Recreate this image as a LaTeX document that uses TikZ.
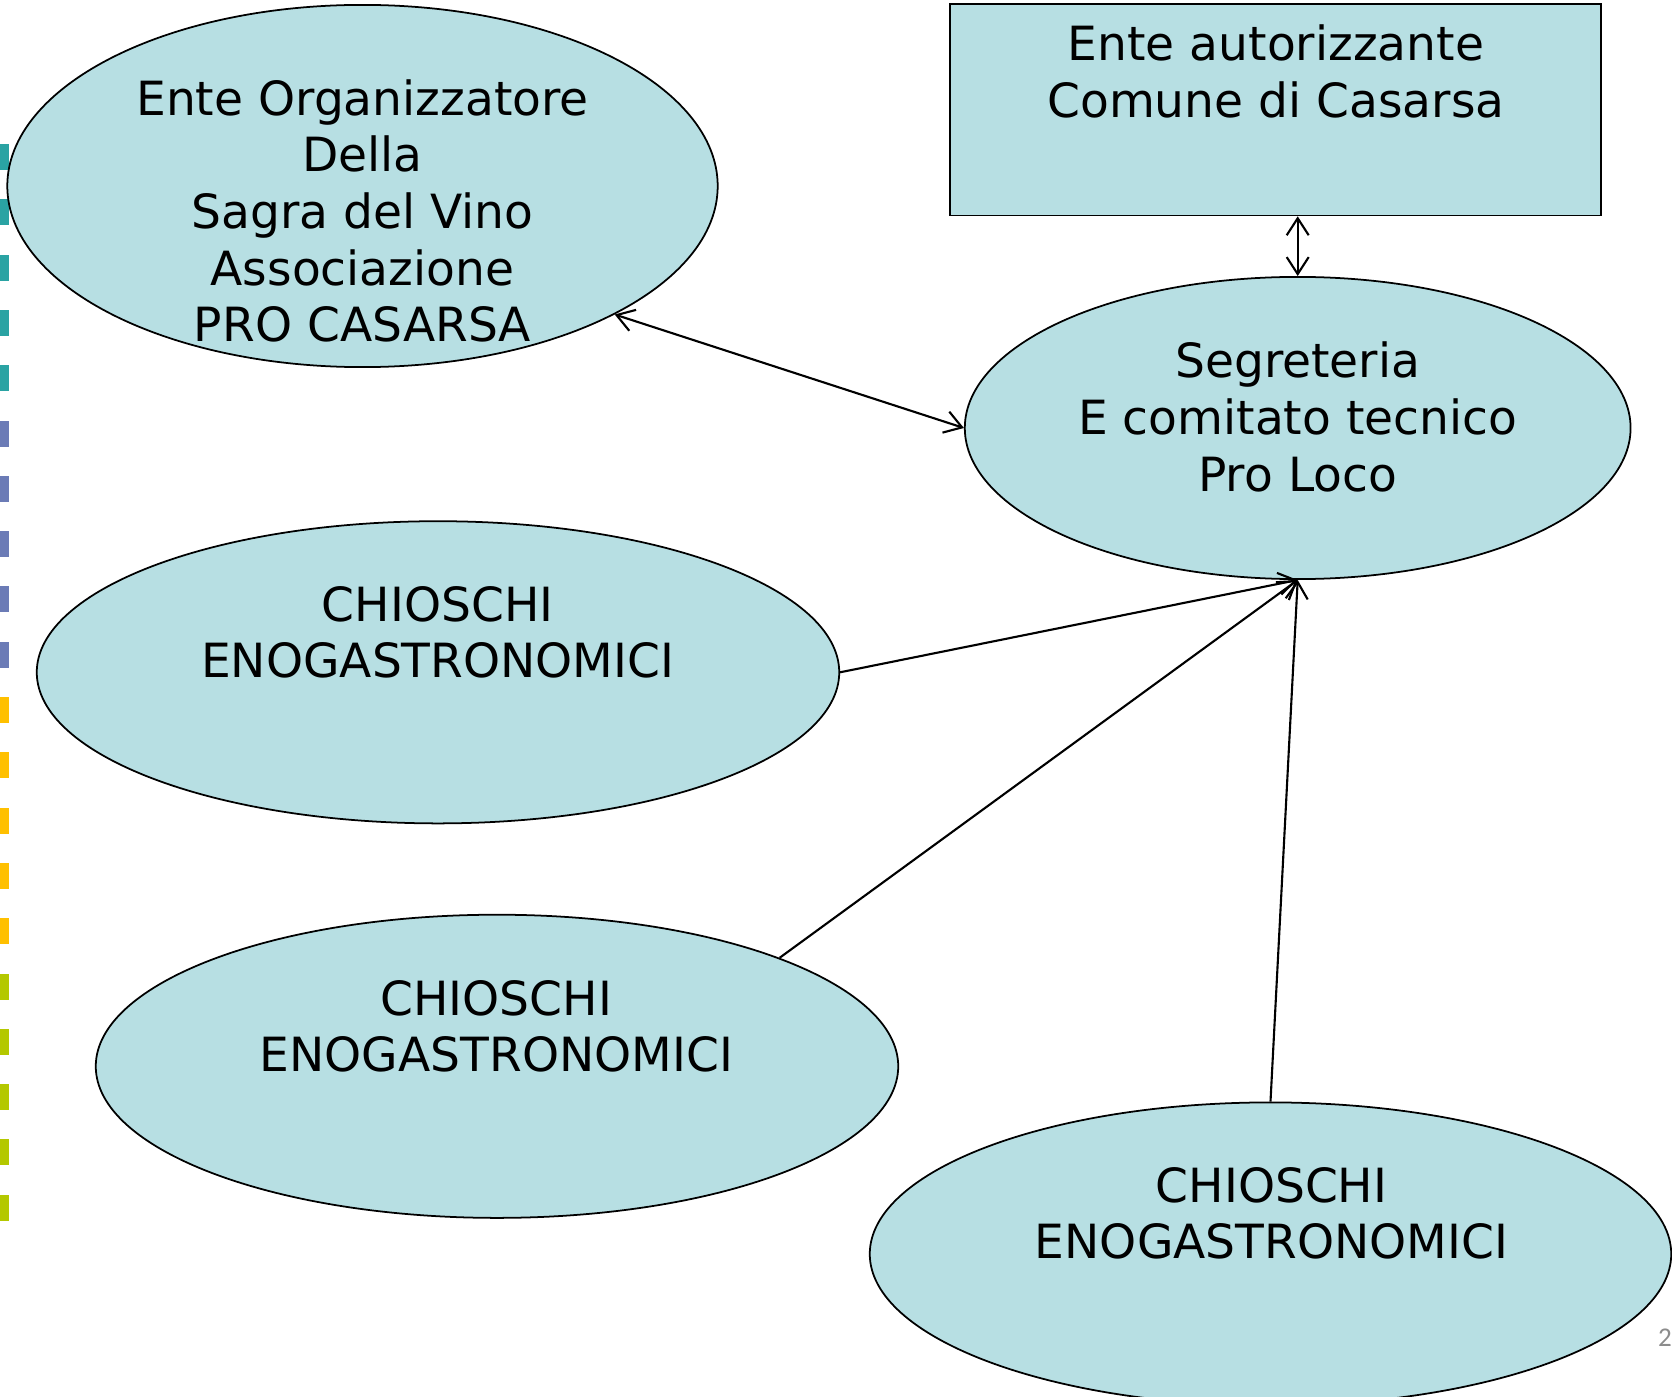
\documentclass[tikz,border=0pt]{standalone}
\usepackage{fontspec}
\setmainfont{DejaVu Sans}
\newfontfamily\numfont{Carlito}
\usetikzlibrary{shapes.geometric,arrows.meta}
\definecolor{paleblue}{HTML}{B7DFE3}
\definecolor{mkteal}{HTML}{2AA3A3}
\definecolor{mkblue}{HTML}{6B7BB6}
\definecolor{mkorange}{HTML}{FFC000}
\definecolor{mkgreen}{HTML}{B4C800}
\begin{document}
\begin{tikzpicture}[x=0.01cm,y=-0.01cm,
    blob/.style={ellipse, draw, fill=paleblue, line width=0.5pt, inner sep=0pt},
    box/.style={rectangle, draw, fill=paleblue, line width=0.5pt, inner sep=0pt},
    txt/.style={align=center, inner sep=0pt, font=\fontsize{13.4}{16.1}\selectfont},
    link/.style={line width=0.6pt, -{Straight Barb[length=1.7mm,width=2.2mm]}},
    both/.style={line width=0.6pt, {Straight Barb[length=1.7mm,width=2.2mm]}-{Straight Barb[length=1.7mm,width=2.2mm]}}
  ]
  \useasboundingbox (0,0) rectangle (1672,1397);

  % markers on the left edge
  \foreach \c [count=\g from 0] in {mkteal,mkblue,mkorange,mkgreen}
    \foreach \k in {0,...,4}
      \fill[\c] (0,{144+55.3*(5*\g+\k)}) rectangle ++(8.5,26);

  % shapes
  \node[blob, minimum width=7.1cm, minimum height=3.62cm] (org) at (362.5,186) {};
  \node[box, minimum width=6.505cm, minimum height=2.111cm] (auth) at (1275.2,109.8) {};
  \node[blob, minimum width=6.654cm, minimum height=3.02cm] (seg) at (1297.7,428) {};
  \node[blob, minimum width=8.02cm, minimum height=3.02cm] (chia) at (438,672.3) {};
  \node[blob, minimum width=8.02cm, minimum height=3.03cm] (chib) at (497,1066.3) {};
  \node[blob, minimum width=8.01cm, minimum height=3.03cm] (chic) at (1270.5,1254) {};

  % texts
  \node[txt] (orgtext) at (362.5,211) {Ente Organizzatore\\Della\\Sagra del Vino\\Associazione\\PRO CASARSA};
  \node[txt] (authtext) at (1276,71.4) {Ente autorizzante\\Comune di Casarsa};
  \node[txt] (segtext) at (1297.7,417) {Segreteria\\E comitato tecnico\\Pro Loco};
  \node[txt] (chiatext) at (437.7,632.3) {CHIOSCHI\\ENOGASTRONOMICI};
  \node[txt] (chibtext) at (496.4,1026.3) {CHIOSCHI\\ENOGASTRONOMICI};
  \node[txt] (chictext) at (1271.5,1213.5) {CHIOSCHI\\ENOGASTRONOMICI};

  % connectors
  \draw[both] (org.-27) -- (seg.west);
  \draw[both] (seg.north |- auth.south) -- (seg.north);
  \draw[link] (chia.east) -- (seg.south);
  \draw[link] (chib.21) -- (seg.south);
  \draw[link] (chic.north) -- (seg.south);

  % page number
  \node[text=black!45, font=\numfont\fontsize{7.7}{9}\selectfont, inner sep=0pt] (pagenum) at (1665,1338) {2};
\end{tikzpicture}
\end{document}
